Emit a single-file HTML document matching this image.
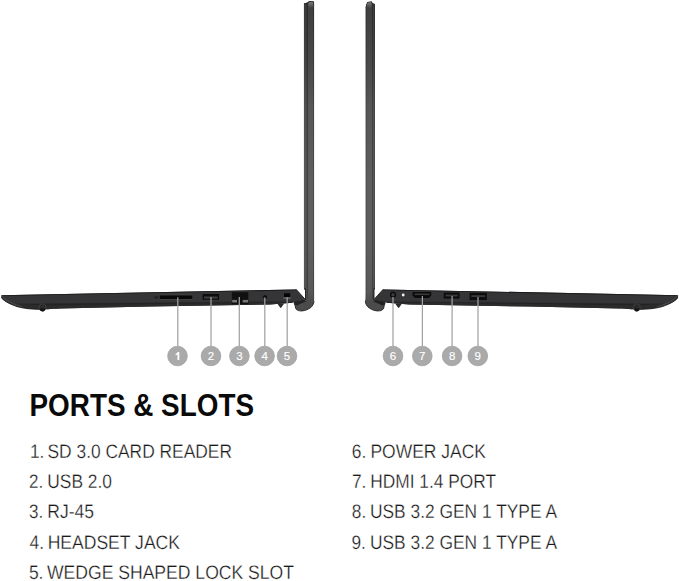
<!DOCTYPE html>
<html><head><meta charset="utf-8">
<style>
html,body{margin:0;padding:0;background:#fff;width:679px;height:581px;overflow:hidden}
svg{display:block;position:absolute;left:0;top:0}
.h{font-family:"Liberation Sans",sans-serif;font-weight:bold;fill:#0a0a0a}
.t{font-family:"Liberation Sans",sans-serif;fill:#1a1a1a;stroke:#fff;stroke-width:0.28px}
.n{font-family:"Liberation Sans",sans-serif;fill:#fff;font-size:11.5px;text-anchor:middle;stroke:#fff;stroke-width:0.15px}
</style></head><body>
<svg width="679" height="581" viewBox="0 0 679 581">
<defs>
<linearGradient id="lidshade" x1="0" y1="0" x2="0" y2="1" gradientUnits="userSpaceOnUse" gradientTransform="scale(1,310)">
<stop offset="0" stop-color="#000" stop-opacity="0.34"/>
<stop offset="0.085" stop-color="#000" stop-opacity="0.30"/>
<stop offset="0.21" stop-color="#000" stop-opacity="0.22"/>
<stop offset="0.34" stop-color="#000" stop-opacity="0.08"/>
<stop offset="0.58" stop-color="#000" stop-opacity="0"/>
<stop offset="0.80" stop-color="#000" stop-opacity="0"/>
<stop offset="0.92" stop-color="#000" stop-opacity="0.05"/>
<stop offset="1" stop-color="#000" stop-opacity="0.1"/>
</linearGradient>
<linearGradient id="toppatch" x1="0" y1="0" x2="0" y2="1"><stop offset="0" stop-color="#7a7a7a"/><stop offset="0.5" stop-color="#5e5e5e"/><stop offset="1" stop-color="#444" stop-opacity="0"/></linearGradient>
<linearGradient id="lidfade" x1="0" y1="0" x2="0" y2="1"><stop offset="0" stop-color="#4c4c4c" stop-opacity="0"/><stop offset="1" stop-color="#4c4c4c" stop-opacity="1"/></linearGradient>
<clipPath id="lidclip"><path d="M303.8 3.6 L307.8 2.6 L309 1.2 L312.8 0.9 L314.2 2.2 L314.2 301 L305 301 L305 290 L303.8 288.5 Z"/></clipPath>
<clipPath id="lidclipR"><path d="M365.5 7.5 L367.3 1.9 L371.8 1.5 L372.6 3.4 L375 3.9 L375 288.5 L374.1 290 L374.1 301 L365.5 301 Z"/></clipPath>
<g id="body">
  <!-- base -->
  <path d="M1.15 295.2 L296.2 289.4 L305.2 299.3 L295.2 301.9 L292.6 302.8 L270 304.5 L150 306.6 L60 308.4 C50 308.9 45 309.3 39 309.3 C31 309.1 23 307.9 17.2 306.4 C11 304.6 5.5 302 2.3 299.2 C1.4 298 1.1 296.5 1.15 295.2 Z" fill="#353537"/>
  <!-- top dark edge -->
  <path d="M1.3 295.2 L296.2 289.4 L296.9 290.3 L3 296.1 Z" fill="#1a1a1a"/>
  <!-- lower band -->
  <path d="M14 303.5 L292 301.2 L292.6 302.8 L270 304.5 L150 306.6 L60 308.4 C50 308.9 45 309.3 39 309.3 C31 309.1 23 307.9 17.2 306.4 Z" fill="#2b2b2b"/>
  <path d="M20 304.3 L292 302 L292 302.6 L40 305.2 Z" fill="#232323"/>
  <!-- tip rim -->
  <path d="M2.6 296.6 C5 300 11 303.5 22 306.6" stroke="#505050" stroke-width="0.8" fill="none"/>
  <path d="M1.4 297 C2.5 300 8 303.5 17 306.6 C24 308.6 32 309.3 40 309.3" stroke="#1e1e1e" stroke-width="0.9" fill="none"/>
  <!-- slope dark edge -->
  <path d="M296.2 289.4 L305 299.2" stroke="#1e1e1e" stroke-width="0.9" fill="none"/>
  <!-- feet -->
  <circle cx="42.5" cy="307.4" r="3.5" fill="none" stroke="#474747" stroke-width="0.7"/>
  <path d="M39.5 308.6 L45.3 308.4 Q44.8 311.6 42.4 311.6 Q40 311.6 39.5 308.6 Z" fill="#151515"/>
  <path d="M277.4 303.7 L284.2 303.5 L281.3 307.6 Q280.7 308.2 280.1 307.6 Z" fill="#2a2a2a"/>
  <!-- hinge -->
  <path d="M303.8 299.5 L314.1 299.5 C314 303.5 312.6 306.4 310 308.1 C307.5 309.7 305 310.6 302.3 310.9 C300.5 311 298.7 310.8 297.7 310.3 C296.6 309.7 295.9 309 295.6 308.2 L295.1 305.7 L294.2 303.2 L304.5 299.3 Z" fill="#4b4b4b"/>
  <path d="M314 301 C313.9 303.5 312.6 306.4 310 308.1 C307.5 309.7 305 310.6 302.3 310.9 C300.5 311 298.7 310.8 297.7 310.3 C296.6 309.7 295.9 309 295.6 308.2 L295.1 305.7 L294.2 303.2" fill="none" stroke="#202020" stroke-width="0.9"/>
  <path d="M293.6 301.8 L305 299.2 L306.8 300.9 L296.8 305.6 L295 304.8 Z" fill="#222"/>
  <path d="M304.2 287.5 L305.8 288.5 L306 300 L305 300 L305 290 Z" fill="#1a1a1a" opacity="0.85"/>
</g>
</defs>

<use href="#body"/>
<use href="#body" transform="matrix(-1 0 0 1 679.3 0)"/>
<!-- left lid -->
  <g clip-path="url(#lidclip)">
    <rect x="303.8" y="0" width="10.4" height="300" fill="#5a5a5a"/>
    <rect x="303.8" y="0" width="3.1" height="300" fill="#575757"/>
    <rect x="306.7" y="0" width="1.3" height="300" fill="#3f3f3f"/>
    <rect x="308" y="0" width="5.3" height="300" fill="#5e5e5e"/>
    <rect x="313.3" y="0" width="0.9" height="300" fill="#444"/>
    <rect x="303.8" y="0" width="10.4" height="300" fill="url(#lidshade)"/>
    <rect x="303.8" y="292" width="10.4" height="9" fill="url(#lidfade)"/>
    <path d="M308.3 2.4 L312.2 1.6 L313.2 2.6 L313.2 9 L308.5 9 Z" fill="url(#toppatch)"/>
    <path d="M303.9 3.7 L307 2.8 L307.8 3.2 L308.8 1.6 L312.6 1.0 L314 2.2" fill="none" stroke="#222" stroke-width="0.9"/>
  </g>
<path d="M304.2 287.5 L305.8 288.5 L306 300 L305 300 L305 290 Z" fill="#1a1a1a" opacity="0.85"/>
<!-- right lid -->
  <g clip-path="url(#lidclipR)">
    <rect x="365.5" y="0" width="9.5" height="301" fill="#5e5e5e"/>
    <rect x="365.5" y="0" width="0.9" height="301" fill="#444"/>
    <rect x="372.2" y="0" width="0.8" height="301" fill="#3f3f3f"/>
    <rect x="373" y="0" width="1.3" height="301" fill="#575757"/>
    <rect x="374.3" y="0" width="0.7" height="301" fill="#444"/>
    <rect x="365.5" y="0" width="9.5" height="301" fill="url(#lidshade)"/>
    <rect x="365.5" y="292" width="9.5" height="9" fill="url(#lidfade)"/>
    <path d="M367.2 1.9 L371.4 1.6 L371.6 9 L366.6 9 Z" fill="url(#toppatch)"/>
    <path d="M365.6 7.4 L367.3 2.0 L371.6 1.6 L372.5 3.4 L375 3.9" fill="none" stroke="#222" stroke-width="0.9"/>
  </g>
  <path d="M375 287.5 L373.4 288.5 L373.2 300 L374.2 300 L374.2 290 Z" fill="#1a1a1a" opacity="0.85"/>


<!-- ports left -->
<path d="M153.5 296.6 L158.8 296.4 L157 298.6 L155.2 298.6 Z" fill="#1e1e1e"/>
<path d="M160 294.3 L192 294.1" stroke="#454545" stroke-width="0.6"/>
<path d="M159.8 295.6 L191.5 295.5 Q193.4 297.2 191.5 298.9 L159.8 298.9 Z" fill="#080808"/>
<path d="M160 299.5 L192 299.5" stroke="#4a4a4a" stroke-width="0.6"/>
<rect x="202.6" y="294" width="16.4" height="5.8" fill="#0c0c0c"/>
<rect x="204" y="296.4" width="13.6" height="2.3" fill="#3a3a3a"/>
<rect x="231.8" y="292.2" width="16.5" height="12" fill="#101010"/>
<rect x="232.2" y="299.9" width="4.8" height="2.6" fill="#777"/>
<rect x="242.7" y="299.9" width="5.3" height="2.6" fill="#777"/>
<rect x="263" y="295.2" width="4.1" height="3.7" rx="1.8" fill="#0a0a0a"/>
<rect x="284" y="293.3" width="6.2" height="3.9" fill="#050505"/>

<!-- ports right -->
<circle cx="393" cy="294.8" r="2.4" fill="#3c3c3c" stroke="#080808" stroke-width="1.3"/>
<circle cx="403.2" cy="295" r="1.4" fill="#f2f2f2"/>
<path d="M412.6 291.9 L431.2 291.9 L431.2 295.5 L429 297.9 L414.8 297.9 L412.6 295.5 Z" fill="#0a0a0a"/>
<rect x="414.5" y="293.5" width="15" height="1.6" fill="#3a3a3a"/>
<rect x="443.7" y="292.6" width="15.9" height="6" fill="#0c0c0c"/>
<rect x="445.5" y="294.6" width="12.3" height="1.8" fill="#3a3a3a"/>
<rect x="469.6" y="292.9" width="17.2" height="7.2" fill="#0c0c0c"/>
<rect x="471.4" y="295.2" width="13.6" height="1.8" fill="#3a3a3a"/>

<!-- ===== CALLOUTS ===== -->
<g stroke="#a2a2a2" stroke-width="1.25">
<line x1="177.8" y1="297.2" x2="177.8" y2="346"/>
<line x1="211" y1="297" x2="211" y2="346"/>
<line x1="239.3" y1="297" x2="239.3" y2="346"/>
<line x1="264.8" y1="297.5" x2="264.8" y2="346"/>
<line x1="287.2" y1="297.2" x2="287.2" y2="346"/>
<line x1="393" y1="297" x2="393" y2="346"/>
<line x1="422.4" y1="296" x2="422.4" y2="346"/>
<line x1="452.1" y1="296" x2="452.1" y2="346"/>
<line x1="478" y1="297" x2="478" y2="346"/>
</g>
<line x1="283.6" y1="298" x2="290.6" y2="298" stroke="#9a9a9a" stroke-width="0.8"/>
<g fill="#aaaaaa" stroke="#a0a0a0" stroke-width="0.8">
<circle cx="177.5" cy="356" r="9.8"/>
<circle cx="211" cy="356" r="9.8"/>
<circle cx="239.4" cy="356" r="9.8"/>
<circle cx="264.6" cy="356" r="9.8"/>
<circle cx="287" cy="356" r="9.8"/>
<circle cx="393" cy="356" r="9.8"/>
<circle cx="422.3" cy="356" r="9.8"/>
<circle cx="452.1" cy="356" r="9.8"/>
<circle cx="477.8" cy="356" r="9.8"/>
</g>
<path d="M177.5 352 L179.3 352 L179.3 360 L177.5 360 L177.5 354.6 Q176.6 355.2 175.6 355.3 L175.6 353.9 Q177 353.4 177.5 352 Z" fill="#fff"/>
<g class="n">

<text x="211" y="360.1">2</text>
<text x="239.4" y="360.1">3</text>
<text x="264.6" y="360.1">4</text>
<text x="287" y="360.1">5</text>
<text x="393" y="360.1">6</text>
<text x="422.3" y="360.1">7</text>
<text x="452.1" y="360.1">8</text>
<text x="477.8" y="360.1">9</text>
</g>

<!-- ===== TEXT ===== -->
<text class="h" x="29.5" y="415.8" font-size="31" textLength="224.5" lengthAdjust="spacingAndGlyphs">PORTS &amp; SLOTS</text>
<g class="t" font-size="19.5" text-rendering="geometricPrecision">
<text x="29.90" y="457.7" textLength="14.41" lengthAdjust="spacingAndGlyphs">1.</text><text x="47.51" y="457.7" textLength="184.49" lengthAdjust="spacingAndGlyphs">SD 3.0 CARD READER</text>
<text x="28.90" y="488" textLength="14.23" lengthAdjust="spacingAndGlyphs">2.</text><text x="47.27" y="488" textLength="64.73" lengthAdjust="spacingAndGlyphs">USB 2.0</text>
<text x="28.90" y="518.3" textLength="14.24" lengthAdjust="spacingAndGlyphs">3.</text><text x="47.28" y="518.3" textLength="46.72" lengthAdjust="spacingAndGlyphs">RJ-45</text>
<text x="29.50" y="548.8" textLength="14.51" lengthAdjust="spacingAndGlyphs">4.</text><text x="47.65" y="548.8" textLength="132.35" lengthAdjust="spacingAndGlyphs">HEADSET JACK</text>
<text x="28.90" y="578.6" textLength="14.54" lengthAdjust="spacingAndGlyphs">5.</text><text x="46.99" y="578.6" textLength="247.01" lengthAdjust="spacingAndGlyphs">WEDGE SHAPED LOCK SLOT</text>
<text x="351.80" y="457.9" textLength="14.53" lengthAdjust="spacingAndGlyphs">6.</text><text x="370.47" y="457.9" textLength="115.53" lengthAdjust="spacingAndGlyphs">POWER JACK</text>
<text x="352.00" y="488" textLength="14.40" lengthAdjust="spacingAndGlyphs">7.</text><text x="370.29" y="488" textLength="125.71" lengthAdjust="spacingAndGlyphs">HDMI 1.4 PORT</text>
<text x="351.80" y="518.3" textLength="14.43" lengthAdjust="spacingAndGlyphs">8.</text><text x="369.94" y="518.3" textLength="187.06" lengthAdjust="spacingAndGlyphs">USB 3.2 GEN 1 TYPE A</text>
<text x="351.50" y="548.8" textLength="14.43" lengthAdjust="spacingAndGlyphs">9.</text><text x="369.94" y="548.8" textLength="187.06" lengthAdjust="spacingAndGlyphs">USB 3.2 GEN 1 TYPE A</text>
</g>
</svg>
</body></html>
